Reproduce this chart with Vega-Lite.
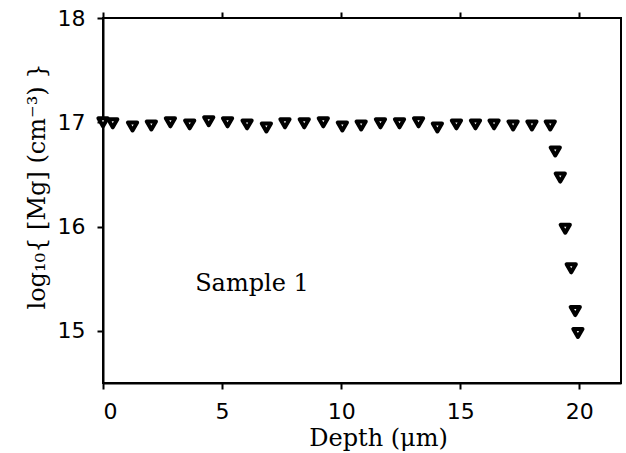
{
  "$schema": "https://vega.github.io/schema/vega-lite/v6.json",
  "autosize": "none",
  "padding": {"left": 103, "top": 18, "right": 5, "bottom": 70},
  "width": 518,
  "height": 365,
  "background": "white",
  "config": {
    "view": {"stroke": "black", "strokeWidth": 2},
    "axis": {
      "domainColor": "black", "domainWidth": 2, "tickColor": "black", "tickWidth": 2, "tickSize": 6,
      "grid": false, "labelColor": "black", "titleColor": "black",
      "labelFont": "DejaVu Sans", "labelFontSize": 22, "labelFontWeight": "normal",
      "titleFont": "DejaVu Serif", "titleFontSize": 24, "titleFontWeight": "normal"
    }
  },
  "layer": [
    {
      "data": {"values": [
        {"depth": 0.0, "conc": 17.0},
        {"depth": 0.41, "conc": 16.99},
        {"depth": 1.24, "conc": 16.96},
        {"depth": 2.03, "conc": 16.97},
        {"depth": 2.83, "conc": 17.0},
        {"depth": 3.64, "conc": 16.98},
        {"depth": 4.44, "conc": 17.01},
        {"depth": 5.23, "conc": 17.0},
        {"depth": 6.05, "conc": 16.98},
        {"depth": 6.86, "conc": 16.95},
        {"depth": 7.64, "conc": 16.99},
        {"depth": 8.45, "conc": 16.99},
        {"depth": 9.25, "conc": 17.0},
        {"depth": 10.05, "conc": 16.96},
        {"depth": 10.84, "conc": 16.97},
        {"depth": 11.65, "conc": 16.99},
        {"depth": 12.45, "conc": 16.99},
        {"depth": 13.25, "conc": 17.0},
        {"depth": 14.04, "conc": 16.95},
        {"depth": 14.84, "conc": 16.98},
        {"depth": 15.64, "conc": 16.98},
        {"depth": 16.42, "conc": 16.98},
        {"depth": 17.22, "conc": 16.97},
        {"depth": 18.01, "conc": 16.97},
        {"depth": 18.78, "conc": 16.97},
        {"depth": 18.99, "conc": 16.72},
        {"depth": 19.2, "conc": 16.47},
        {"depth": 19.41, "conc": 15.98},
        {"depth": 19.66, "conc": 15.6},
        {"depth": 19.83, "conc": 15.19},
        {"depth": 19.94, "conc": 14.98}
      ]},
      "mark": {"type": "point", "shape": "triangle-down", "filled": true, "fill": "white", "stroke": "black", "strokeWidth": 4, "strokeJoin": "round", "size": 85, "opacity": 1},
      "encoding": {
        "x": {"field": "depth", "type": "quantitative", "scale": {"domain": [0, 21.75], "nice": false, "zero": false},
              "axis": {"values": [0, 5, 10, 15, 20], "title": "Depth (μm)", "labelPadding": 12, "titlePadding": 4, "titleX": 275}},
        "y": {"field": "conc", "type": "quantitative", "scale": {"domain": [14.5, 18], "nice": false, "zero": false},
              "axis": {"values": [15, 16, 17, 18], "title": "log₁₀{ [Mg] (cm⁻³) }", "labelPadding": 12, "titlePadding": 8, "titleY": 168}}
      }
    },
    {
      "data": {"values": [{"depth": 3.87, "conc": 15.38, "label": "Sample 1"}]},
      "mark": {"type": "text", "align": "left", "baseline": "alphabetic", "font": "DejaVu Serif", "fontSize": 24, "color": "black"},
      "encoding": {
        "x": {"field": "depth", "type": "quantitative",
              "axis": {"orient": "top", "values": [0, 5, 10, 15, 20], "labels": false, "title": null, "domain": false, "ticks": true}},
        "y": {"field": "conc", "type": "quantitative",
              "axis": {"values": [15, 16, 17, 18], "title": "log₁₀{ [Mg] (cm⁻³) }", "labelPadding": 12, "titlePadding": 8, "titleY": 168}},
        "text": {"field": "label"}
      }
    }
  ],
  "resolve": {"axis": {"x": "independent"}}
}
